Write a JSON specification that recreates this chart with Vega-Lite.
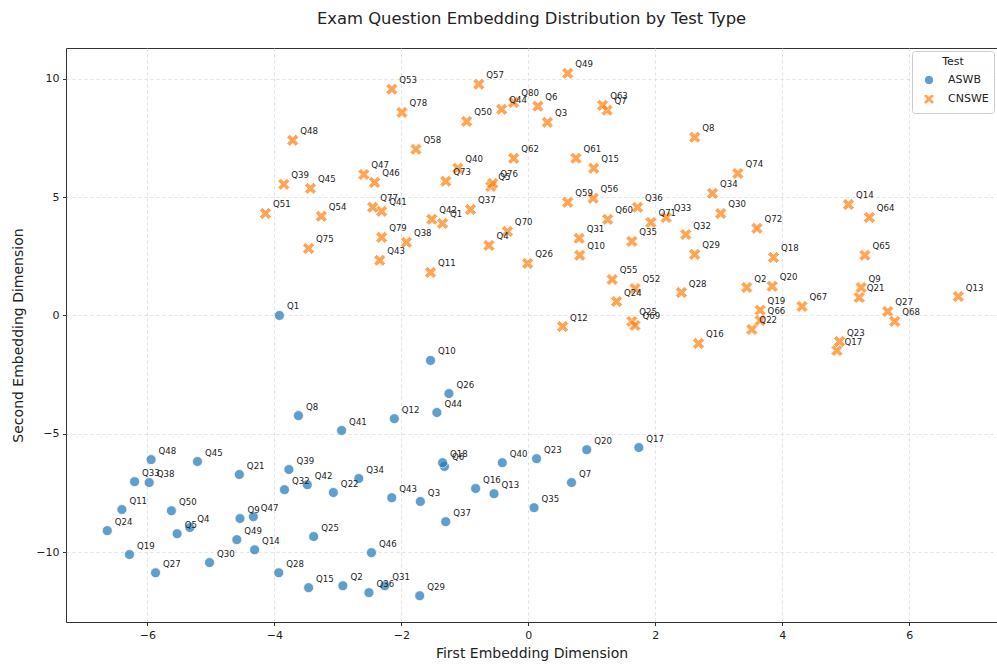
{
  "$schema": "https://vega.github.io/schema/vega-lite/v6.json",
  "width": 931,
  "height": 574,
  "autosize": {"type": "none"},
  "padding": {"left": 66, "top": 48, "right": 0, "bottom": 44},
  "title": {"text": "Exam Question Embedding Distribution by Test Type", "font": "DejaVu Sans", "fontSize": 16.4, "fontWeight": "normal", "color": "#222", "offset": 21, "anchor": "middle"},
  "config": {
    "font": "DejaVu Sans",
    "view": {"stroke": "#333", "strokeWidth": 1},
    "axis": {"domain": false, "grid": true, "gridColor": "#d9d9d9", "gridDash": [3, 3], "gridWidth": 0.8, "tickColor": "#333", "tickSize": 3.5, "labelFont": "DejaVu Sans", "labelFontSize": 11, "labelColor": "#222", "labelPadding": 3.5, "titleFont": "DejaVu Sans", "titleFontSize": 14, "titleFontWeight": "normal", "titleColor": "#222"}
  },
  "data": {"values": [
    {"Test": "ASWB", "label": "Q1", "x": -3.92, "y": 0.0},
    {"Test": "ASWB", "label": "Q2", "x": -2.92, "y": -11.42},
    {"Test": "ASWB", "label": "Q3", "x": -1.7, "y": -7.86},
    {"Test": "ASWB", "label": "Q4", "x": -5.33, "y": -8.96},
    {"Test": "ASWB", "label": "Q5", "x": -5.53, "y": -9.22},
    {"Test": "ASWB", "label": "Q6", "x": -1.32, "y": -6.38},
    {"Test": "ASWB", "label": "Q7", "x": 0.68, "y": -7.06},
    {"Test": "ASWB", "label": "Q8", "x": -3.62, "y": -4.23},
    {"Test": "ASWB", "label": "Q9", "x": -4.54, "y": -8.58},
    {"Test": "ASWB", "label": "Q10", "x": -1.54, "y": -1.9},
    {"Test": "ASWB", "label": "Q11", "x": -6.4, "y": -8.2},
    {"Test": "ASWB", "label": "Q12", "x": -2.11, "y": -4.36},
    {"Test": "ASWB", "label": "Q13", "x": -0.54, "y": -7.53},
    {"Test": "ASWB", "label": "Q14", "x": -4.31, "y": -9.9},
    {"Test": "ASWB", "label": "Q15", "x": -3.46, "y": -11.5},
    {"Test": "ASWB", "label": "Q16", "x": -0.83, "y": -7.31},
    {"Test": "ASWB", "label": "Q17", "x": 1.74, "y": -5.58},
    {"Test": "ASWB", "label": "Q18", "x": -1.35, "y": -6.22},
    {"Test": "ASWB", "label": "Q19", "x": -6.28, "y": -10.1},
    {"Test": "ASWB", "label": "Q20", "x": 0.92, "y": -5.67},
    {"Test": "ASWB", "label": "Q21", "x": -4.55, "y": -6.72},
    {"Test": "ASWB", "label": "Q22", "x": -3.07, "y": -7.48},
    {"Test": "ASWB", "label": "Q23", "x": 0.13, "y": -6.05},
    {"Test": "ASWB", "label": "Q24", "x": -6.63, "y": -9.09},
    {"Test": "ASWB", "label": "Q25", "x": -3.38, "y": -9.34},
    {"Test": "ASWB", "label": "Q26", "x": -1.25, "y": -3.3},
    {"Test": "ASWB", "label": "Q27", "x": -5.87, "y": -10.87},
    {"Test": "ASWB", "label": "Q28", "x": -3.93, "y": -10.87},
    {"Test": "ASWB", "label": "Q29", "x": -1.71, "y": -11.84},
    {"Test": "ASWB", "label": "Q30", "x": -5.02, "y": -10.44},
    {"Test": "ASWB", "label": "Q31", "x": -2.26, "y": -11.42},
    {"Test": "ASWB", "label": "Q32", "x": -3.84, "y": -7.36},
    {"Test": "ASWB", "label": "Q33", "x": -6.2, "y": -7.02},
    {"Test": "ASWB", "label": "Q34", "x": -2.67, "y": -6.89},
    {"Test": "ASWB", "label": "Q35", "x": 0.09, "y": -8.12},
    {"Test": "ASWB", "label": "Q36", "x": -2.51, "y": -11.71},
    {"Test": "ASWB", "label": "Q37", "x": -1.3, "y": -8.71},
    {"Test": "ASWB", "label": "Q38", "x": -5.97, "y": -7.06},
    {"Test": "ASWB", "label": "Q39", "x": -3.77, "y": -6.51},
    {"Test": "ASWB", "label": "Q40", "x": -0.41, "y": -6.22},
    {"Test": "ASWB", "label": "Q41", "x": -2.94, "y": -4.86},
    {"Test": "ASWB", "label": "Q42", "x": -3.48, "y": -7.15},
    {"Test": "ASWB", "label": "Q43", "x": -2.15, "y": -7.7},
    {"Test": "ASWB", "label": "Q44", "x": -1.44, "y": -4.1},
    {"Test": "ASWB", "label": "Q45", "x": -5.21, "y": -6.17},
    {"Test": "ASWB", "label": "Q46", "x": -2.47, "y": -10.02},
    {"Test": "ASWB", "label": "Q47", "x": -4.33, "y": -8.5},
    {"Test": "ASWB", "label": "Q48", "x": -5.94, "y": -6.09},
    {"Test": "ASWB", "label": "Q49", "x": -4.59, "y": -9.47},
    {"Test": "ASWB", "label": "Q50", "x": -5.62, "y": -8.25},
    {"Test": "CNSWE", "label": "Q1", "x": -1.35, "y": 3.89},
    {"Test": "CNSWE", "label": "Q2", "x": 3.44, "y": 1.18},
    {"Test": "CNSWE", "label": "Q3", "x": 0.3, "y": 8.16},
    {"Test": "CNSWE", "label": "Q4", "x": -0.62, "y": 2.96},
    {"Test": "CNSWE", "label": "Q5", "x": -0.59, "y": 5.45},
    {"Test": "CNSWE", "label": "Q6", "x": 0.15, "y": 8.84},
    {"Test": "CNSWE", "label": "Q7", "x": 1.24, "y": 8.67},
    {"Test": "CNSWE", "label": "Q8", "x": 2.62, "y": 7.53},
    {"Test": "CNSWE", "label": "Q9", "x": 5.24, "y": 1.18},
    {"Test": "CNSWE", "label": "Q10", "x": 0.81, "y": 2.54},
    {"Test": "CNSWE", "label": "Q11", "x": -1.54, "y": 1.82},
    {"Test": "CNSWE", "label": "Q12", "x": 0.54, "y": -0.47},
    {"Test": "CNSWE", "label": "Q13", "x": 6.77, "y": 0.8},
    {"Test": "CNSWE", "label": "Q14", "x": 5.04, "y": 4.69},
    {"Test": "CNSWE", "label": "Q15", "x": 1.03, "y": 6.22},
    {"Test": "CNSWE", "label": "Q16", "x": 2.68, "y": -1.18},
    {"Test": "CNSWE", "label": "Q17", "x": 4.86, "y": -1.48},
    {"Test": "CNSWE", "label": "Q18", "x": 3.86, "y": 2.45},
    {"Test": "CNSWE", "label": "Q19", "x": 3.65, "y": 0.22},
    {"Test": "CNSWE", "label": "Q20", "x": 3.84, "y": 1.23},
    {"Test": "CNSWE", "label": "Q21", "x": 5.21, "y": 0.76},
    {"Test": "CNSWE", "label": "Q22", "x": 3.52, "y": -0.59},
    {"Test": "CNSWE", "label": "Q23", "x": 4.9, "y": -1.1},
    {"Test": "CNSWE", "label": "Q24", "x": 1.39, "y": 0.59},
    {"Test": "CNSWE", "label": "Q25", "x": 1.63, "y": -0.25},
    {"Test": "CNSWE", "label": "Q26", "x": -0.01, "y": 2.2},
    {"Test": "CNSWE", "label": "Q27", "x": 5.66, "y": 0.17},
    {"Test": "CNSWE", "label": "Q28", "x": 2.41, "y": 0.97},
    {"Test": "CNSWE", "label": "Q29", "x": 2.62, "y": 2.58},
    {"Test": "CNSWE", "label": "Q30", "x": 3.03, "y": 4.31},
    {"Test": "CNSWE", "label": "Q31", "x": 0.8, "y": 3.26},
    {"Test": "CNSWE", "label": "Q32", "x": 2.48, "y": 3.42},
    {"Test": "CNSWE", "label": "Q33", "x": 2.17, "y": 4.14},
    {"Test": "CNSWE", "label": "Q34", "x": 2.9, "y": 5.16},
    {"Test": "CNSWE", "label": "Q35", "x": 1.63, "y": 3.13},
    {"Test": "CNSWE", "label": "Q36", "x": 1.72, "y": 4.57},
    {"Test": "CNSWE", "label": "Q37", "x": -0.91, "y": 4.48},
    {"Test": "CNSWE", "label": "Q38", "x": -1.92, "y": 3.09},
    {"Test": "CNSWE", "label": "Q39", "x": -3.85, "y": 5.54},
    {"Test": "CNSWE", "label": "Q40", "x": -1.11, "y": 6.22},
    {"Test": "CNSWE", "label": "Q41", "x": -2.31, "y": 4.4},
    {"Test": "CNSWE", "label": "Q42", "x": -1.52, "y": 4.06},
    {"Test": "CNSWE", "label": "Q43", "x": -2.34, "y": 2.33},
    {"Test": "CNSWE", "label": "Q44", "x": -0.42, "y": 8.71},
    {"Test": "CNSWE", "label": "Q45", "x": -3.43, "y": 5.37},
    {"Test": "CNSWE", "label": "Q46", "x": -2.42, "y": 5.62},
    {"Test": "CNSWE", "label": "Q47", "x": -2.59, "y": 5.96},
    {"Test": "CNSWE", "label": "Q48", "x": -3.71, "y": 7.4},
    {"Test": "CNSWE", "label": "Q49", "x": 0.62, "y": 10.23},
    {"Test": "CNSWE", "label": "Q50", "x": -0.97, "y": 8.2},
    {"Test": "CNSWE", "label": "Q51", "x": -4.14, "y": 4.31},
    {"Test": "CNSWE", "label": "Q52", "x": 1.68, "y": 1.14},
    {"Test": "CNSWE", "label": "Q53", "x": -2.15, "y": 9.56},
    {"Test": "CNSWE", "label": "Q54", "x": -3.26, "y": 4.19},
    {"Test": "CNSWE", "label": "Q55", "x": 1.32, "y": 1.52},
    {"Test": "CNSWE", "label": "Q56", "x": 1.02, "y": 4.95},
    {"Test": "CNSWE", "label": "Q57", "x": -0.78, "y": 9.77},
    {"Test": "CNSWE", "label": "Q58", "x": -1.77, "y": 7.02},
    {"Test": "CNSWE", "label": "Q59", "x": 0.62, "y": 4.78},
    {"Test": "CNSWE", "label": "Q60", "x": 1.25, "y": 4.06},
    {"Test": "CNSWE", "label": "Q61", "x": 0.75, "y": 6.64},
    {"Test": "CNSWE", "label": "Q62", "x": -0.23, "y": 6.64},
    {"Test": "CNSWE", "label": "Q63", "x": 1.17, "y": 8.88},
    {"Test": "CNSWE", "label": "Q64", "x": 5.37, "y": 4.14},
    {"Test": "CNSWE", "label": "Q65", "x": 5.3, "y": 2.54},
    {"Test": "CNSWE", "label": "Q66", "x": 3.65, "y": -0.21},
    {"Test": "CNSWE", "label": "Q67", "x": 4.31, "y": 0.38},
    {"Test": "CNSWE", "label": "Q68", "x": 5.77, "y": -0.25},
    {"Test": "CNSWE", "label": "Q69", "x": 1.68, "y": -0.42},
    {"Test": "CNSWE", "label": "Q70", "x": -0.33, "y": 3.55},
    {"Test": "CNSWE", "label": "Q71", "x": 1.93, "y": 3.93},
    {"Test": "CNSWE", "label": "Q72", "x": 3.6, "y": 3.68},
    {"Test": "CNSWE", "label": "Q73", "x": -1.3, "y": 5.67},
    {"Test": "CNSWE", "label": "Q74", "x": 3.3, "y": 6.0},
    {"Test": "CNSWE", "label": "Q75", "x": -3.46, "y": 2.83},
    {"Test": "CNSWE", "label": "Q76", "x": -0.56, "y": 5.58},
    {"Test": "CNSWE", "label": "Q77", "x": -2.45, "y": 4.57},
    {"Test": "CNSWE", "label": "Q78", "x": -1.99, "y": 8.58},
    {"Test": "CNSWE", "label": "Q79", "x": -2.31, "y": 3.3},
    {"Test": "CNSWE", "label": "Q80", "x": -0.23, "y": 9.0}
  ]},
  "encoding": {
    "x": {"field": "x", "type": "quantitative", "title": "First Embedding Dimension", "scale": {"domain": [-7.28, 7.38], "nice": false, "zero": false}, "axis": {"values": [-6, -4, -2, 0, 2, 4, 6], "titlePadding": 6}},
    "y": {"field": "y", "type": "quantitative", "title": "Second Embedding Dimension", "scale": {"domain": [-12.95, 11.3], "nice": false, "zero": false}, "axis": {"values": [-10, -5, 0, 5, 10], "titlePadding": 10}}
  },
  "layer": [
    {
      "mark": {"type": "point", "filled": true, "size": 100, "opacity": 0.7, "stroke": "white", "strokeWidth": 0.8},
      "encoding": {
        "color": {"field": "Test", "type": "nominal", "scale": {"domain": ["ASWB", "CNSWE"], "range": ["#1f77b4", "#ff7f0e"]}, "legend": {"title": "Test", "orient": "top-right", "offset": 3, "padding": 5, "strokeColor": "#cccccc", "fillColor": "white", "cornerRadius": 3, "titleAnchor": "middle", "titleFontSize": 11, "titleFontWeight": "normal", "titleColor": "#222", "titlePadding": 7, "labelFontSize": 11, "labelColor": "#222", "symbolSize": 100, "symbolOpacity": 0.7, "symbolOffset": 6, "labelOffset": 13, "rowPadding": 2}},
        "shape": {"field": "Test", "type": "nominal", "scale": {"domain": ["ASWB", "CNSWE"], "range": ["circle", "M-1.2,-0.6L-0.6,-1.2L0,-0.6L0.6,-1.2L1.2,-0.6L0.6,0L1.2,0.6L0.6,1.2L0,0.6L-0.6,1.2L-1.2,0.6L-0.6,0Z"]}}
      }
    },
    {
      "mark": {"type": "text", "align": "left", "baseline": "middle", "dx": 7.5, "dy": -9, "fontSize": 8.6, "font": "DejaVu Sans", "color": "#222"},
      "encoding": {"text": {"field": "label", "type": "nominal"}}
    }
  ]
}
